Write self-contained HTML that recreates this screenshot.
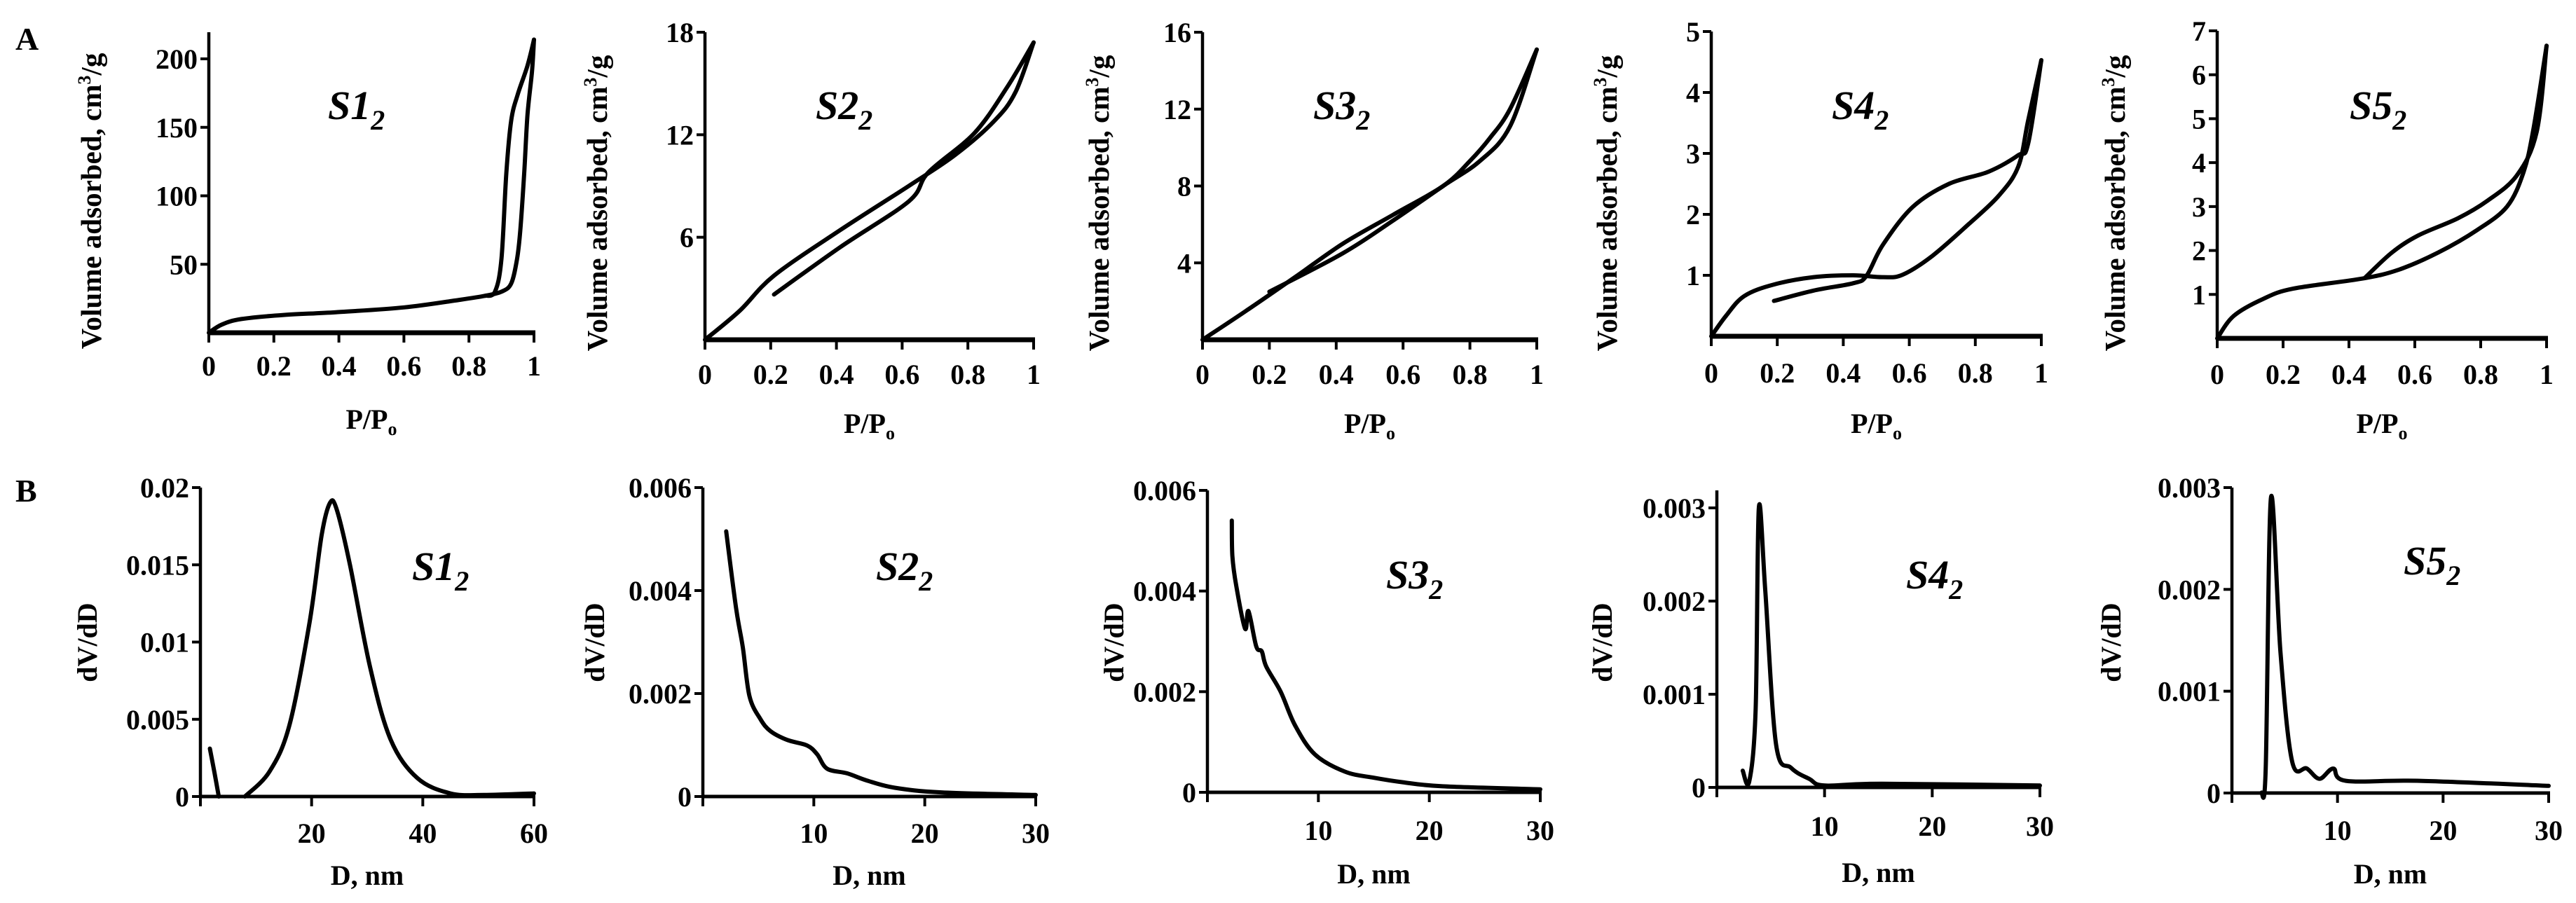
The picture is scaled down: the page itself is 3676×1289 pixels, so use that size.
<!DOCTYPE html>
<html><head><meta charset="utf-8"><style>
html,body{margin:0;padding:0;background:#fff}
svg{display:block}
text{font-family:"Liberation Serif",serif;font-weight:bold;fill:#000}
</style></head><body>
<svg id="fig" width="3676" height="1289" viewBox="0 0 3676 1289" xmlns="http://www.w3.org/2000/svg">
<text x="22" y="71" font-size="46">A</text>
<text x="22" y="716" font-size="46">B</text>
</svg>
<script>
// ---- Row A isotherm data (P/Po, volume) ----
const s1AdsP=[0,0.04,0.1,0.23,0.39,0.6,0.77,0.85,0.9,0.93,0.948,0.958,0.97,0.98,0.994,1];
const s1AdsV=[0,6,10,13,15,18.5,24,27,30,36,54,75,117,159,191,214];
const s1DesP=[0.85,0.88,0.9,0.915,0.93,0.95,0.98,1];
const s1DesV=[27,30,54,117,155,174,195,214];
const s2AdsP=[0,0.106,0.21,0.41,0.62,0.76,0.88,0.945,1];
const s2AdsV=[0,1.7,3.75,6.4,9,10.8,12.8,14.5,17.4];
const s2DesP=[0.21,0.41,0.62,0.68,0.82,0.92,1];
const s2DesV=[2.65,5.4,8.1,9.8,12.1,14.8,17.4];
const s3AdsP=[0,0.13,0.28,0.42,0.57,0.72,0.8,0.86,0.92,1];
const s3AdsV=[0,1.5,3.3,5,6.5,8,9.3,10.5,12,15.1];
const s3DesP=[0.2,0.42,0.57,0.72,0.83,0.92,1];
const s3DesV=[2.5,4.5,6.2,8,9.3,11.1,15.1];
const s4AdsP=[0,0.044,0.1,0.19,0.31,0.43,0.52,0.58,0.67,0.78,0.87,0.93,0.96,1];
const s4AdsV=[0,0.33,0.66,0.85,0.97,1.0,0.97,1.01,1.32,1.84,2.3,2.78,3.54,4.53];
const s4DesP=[0.19,0.31,0.43,0.47,0.52,0.61,0.72,0.84,0.93,0.96,1];
const s4DesV=[0.58,0.75,0.87,0.99,1.5,2.12,2.5,2.7,2.97,3.16,4.53];
const s5AdsP=[0,0.05,0.14,0.23,0.44,0.55,0.67,0.79,0.88,0.93,0.96,1];
const s5AdsV=[0,0.51,0.9,1.13,1.36,1.56,1.95,2.47,3.0,3.78,4.76,6.66];
const s5DesP=[0.45,0.53,0.61,0.73,0.82,0.91,0.97,1];
const s5DesV=[1.39,1.95,2.34,2.73,3.13,3.71,4.7,6.66];
// ---- Row B pore size distribution data (D nm, dV/dD) ----
const b1SmallD=[1.7,2.4,3.3];
const b1SmallV=[0.0031,0.0018,0];
const b1D=[8,12.4,16,19.6,21.8,23.3,24.5,26.9,30.5,34.2,39,45,51,60];
const b1V=[0,0.0016,0.0046,0.0112,0.0169,0.019,0.0186,0.015,0.0084,0.0037,0.0012,0.0002,0.0001,0.0002];
const b2D=[2.1,3.0,3.6,4.2,5.2,6.1,7.6,9.4,10.3,11.2,13,14.8,17.3,21.5,30];
const b2V=[0.00515,0.00365,0.0029,0.00195,0.0015,0.00127,0.0011,0.00099,0.00082,0.00054,0.00045,0.00031,0.00017,0.00008,0.00003];
const b3D=[2.2,2.25,2.6,3.4,3.7,4.4,4.9,5.3,6.6,7.9,9.7,12.4,15,17.6,21.2,30];
const b3V=[0.0054,0.0047,0.0041,0.00325,0.0036,0.0029,0.0028,0.0025,0.002,0.00133,0.00075,0.00041,0.00029,0.0002,0.00012,0.00006];
const b4D=[2.4,3.0,3.6,3.9,4.5,5.5,6.9,8.6,10,15.3,30];
const b4V=[0.00018,0.00006,0.00083,0.003,0.0021,0.00046,0.00021,0.00009,0.00002,0.00004,0.00002];
const b5D=[2.8,3.2,3.7,4.6,5.7,7.1,8.3,9.6,10.8,17.8,30];
const b5V=[0,0.00024,0.0029,0.00138,0.00031,0.00024,0.00014,0.00024,0.00012,0.00012,0.00007];
// ---- tick labels ----
const aXTicks=[0,0.2,0.4,0.6,0.8,1];
const a1YTicks=[50,100,150,200];
const a2YTicks=[6,12,18];
const a3YTicks=[4,8,12,16];
const a4YTicks=[1,2,3,4,5];
const a5YTicks=[1,2,3,4,5,6,7];
const b1XTicks=[20,40,60];
const b30XTicks=[10,20,30];
const b1YTicks=["0","0.005","0.01","0.015","0.02"];
const b2YTicks=["0","0.002","0.004","0.006"];
const b4YTicks=["0","0.001","0.002","0.003"];

const NS="http://www.w3.org/2000/svg";
const svg=document.getElementById('fig');
function mk(tag,attrs,parent){const e=document.createElementNS(NS,tag);for(const k in attrs)e.setAttribute(k,attrs[k]);(parent||svg).appendChild(e);return e;}
function pathD(pts){
  if(pts.length<2)return '';
  let d='M'+pts[0][0].toFixed(1)+','+pts[0][1].toFixed(1);
  for(let i=0;i<pts.length-1;i++){
    const p0=pts[Math.max(0,i-1)],p1=pts[i],p2=pts[i+1],p3=pts[Math.min(pts.length-1,i+2)];
    const c1=[p1[0]+(p2[0]-p0[0])/6,p1[1]+(p2[1]-p0[1])/6];
    const c2=[p2[0]-(p3[0]-p1[0])/6,p2[1]-(p3[1]-p1[1])/6];
    d+=' C'+c1[0].toFixed(1)+','+c1[1].toFixed(1)+' '+c2[0].toFixed(1)+','+c2[1].toFixed(1)+' '+p2[0].toFixed(1)+','+p2[1].toFixed(1);
  }
  return d;
}
function panel(c){
  const g=mk('g',{});
  
  
  const sx=v=>c.x0+(v-c.xmin)/(c.xmax-c.xmin)*(c.x1-c.x0);
  const sy=v=>c.y0-(v-c.ymin)/(c.ymax-c.ymin)*(c.y0-c.y1);
  const ya=mk('line',{x1:c.x0,y1:c.y0,x2:c.x0,y2:c.ytop,stroke:'#000','stroke-width':4.5},g);
  
  
  const xa=mk('line',{x1:c.x0-2,y1:c.y0,x2:c.x1+2,y2:c.y0,stroke:'#000','stroke-width':c.xw},g);
  
  
  c.xticks.forEach((t,i)=>{
    const x=sx(t);
    mk('line',{x1:x,y1:c.y0,x2:x,y2:c.y0+14,stroke:'#000','stroke-width':4},g);
    const tx=mk('text',{x:x,y:c.xly,'font-size':40,'text-anchor':'middle'},g);
    tx.textContent=c.xlabels[i];
    
    
  });
  if(c.x0tick){mk('line',{x1:c.x0,y1:c.y0,x2:c.x0,y2:c.y0+14,stroke:'#000','stroke-width':4},g);}
  c.yticks.forEach((t,i)=>{
    const y=sy(t);
    mk('line',{x1:c.x0-12,y1:y,x2:c.x0,y2:y,stroke:'#000','stroke-width':4},g);
    const ty=mk('text',{x:c.x0-16,y:y+14,'font-size':40,'text-anchor':'end'},g);
    ty.textContent=c.ylabels[i];
    
    
  });
  c.series.forEach((s,k)=>{
    const pts=s[0].map((v,i)=>[sx(v),sy(s[1][i])]);
    const p=mk('path',{d:pathD(pts),fill:'none',stroke:'#000','stroke-width':6,'stroke-linejoin':'round','stroke-linecap':'round'},g);
    
    
  });
  const xt=mk('text',{x:(c.x0+c.x1)/2,y:c.xty,'font-size':40,'text-anchor':'middle'},g);
  
  
  if(c.type==='A'){xt.innerHTML='P/P<tspan font-size="26" dy="9">o</tspan>';}
  else xt.textContent='D, nm';
  const yt=mk('text',{x:0,y:0,'font-size':c.type==='A'?41:40,'text-anchor':'middle',transform:'translate('+(c.ytx)+','+c.yty+') rotate(-90)'},g);
  
  
  if(c.type==='A'){yt.innerHTML='Volume adsorbed, cm<tspan font-size="26" dy="-15">3</tspan><tspan dy="15">/g</tspan>';}
  else yt.textContent='dV/dD';
  const st=mk('text',{x:c.stx,y:c.sty,'font-size':58,'font-style':'italic','text-anchor':'start'},g);
  st.innerHTML=c.label+'<tspan font-size="40" dy="15">2</tspan>';
  
  
}
const aLab=aXTicks.map(String);
const A=(o)=>Object.assign({type:'A',xmin:0,xmax:1,ymin:0,xw:7,xticks:aXTicks,xlabels:aLab},o);
panel(A({name:'panel-a-s1',x0:298,x1:762,y0:475,y1:84,ymax:200,ytop:46,yticks:a1YTicks,ylabels:a1YTicks.map(String),xly:536,xty:612,ytx:144,yty:287,stx:468,sty:170,label:'S1',series:[[s1AdsP,s1AdsV],[s1DesP,s1DesV]]}));
panel(A({name:'panel-a-s2',x0:1006,x1:1475,y0:485,y1:46,ymax:18,ytop:46,yticks:a2YTicks,ylabels:a2YTicks.map(String),xly:548,xty:618,ytx:866,yty:290,stx:1164,sty:170,label:'S2',series:[[s2AdsP,s2AdsV],[s2DesP,s2DesV]]}));
panel(A({name:'panel-a-s3',x0:1716,x1:2193,y0:485,y1:46,ymax:16,ytop:46,yticks:a3YTicks,ylabels:a3YTicks.map(String),xly:548,xty:618,ytx:1582,yty:290,stx:1874,sty:170,label:'S3',series:[[s3AdsP,s3AdsV],[s3DesP,s3DesV]]}));
panel(A({name:'panel-a-s4',x0:2442,x1:2913,y0:480,y1:45,ymax:5,ytop:45,yticks:a4YTicks,ylabels:a4YTicks.map(String),xly:546,xty:618,ytx:2307,yty:290,stx:2614,sty:170,label:'S4',series:[[s4AdsP,s4AdsV],[s4DesP,s4DesV]]}));
panel(A({name:'panel-a-s5',x0:3164,x1:3634,y0:483,y1:44,ymax:7,ytop:44,yticks:a5YTicks,ylabels:a5YTicks.map(String),xly:548,xty:618,ytx:3032,yty:290,stx:3353,sty:170,label:'S5',series:[[s5AdsP,s5AdsV],[s5DesP,s5DesV]]}));
const B=(o)=>Object.assign({type:'B',xmin:0,ymin:0,xw:5,x0tick:true},o);
panel(B({name:'panel-b-s1',x0:286,x1:762,xmax:60,y0:1137,y1:696,ymax:0.02,ytop:696,xticks:b1XTicks,xlabels:b1XTicks.map(String),yticks:[0,0.005,0.01,0.015,0.02],ylabels:b1YTicks,xly:1203,xty:1263,ytx:138,yty:917,stx:588,sty:828,label:'S1',series:[[b1SmallD,b1SmallV],[b1D,b1V]]}));
panel(B({name:'panel-b-s2',x0:1003,x1:1478,xmax:30,y0:1137,y1:696,ymax:0.006,ytop:696,xticks:b30XTicks,xlabels:b30XTicks.map(String),yticks:[0,0.002,0.004,0.006],ylabels:b2YTicks,xly:1203,xty:1263,ytx:862,yty:917,stx:1250,sty:828,label:'S2',series:[[b2D,b2V]]}));
panel(B({name:'panel-b-s3',x0:1723,x1:2198,xmax:30,y0:1131,y1:700,ymax:0.006,ytop:700,xticks:b30XTicks,xlabels:b30XTicks.map(String),yticks:[0,0.002,0.004,0.006],ylabels:b2YTicks,xly:1199,xty:1261,ytx:1603,yty:917,stx:1978,sty:840,label:'S3',series:[[b3D,b3V]]}));
panel(B({name:'panel-b-s4',x0:2450,x1:2911,xmax:30,y0:1124,y1:725,ymax:0.003,ytop:700,xticks:b30XTicks,xlabels:b30XTicks.map(String),yticks:[0,0.001,0.002,0.003],ylabels:b4YTicks,xly:1193,xty:1259,ytx:2300,yty:917,stx:2720,sty:840,label:'S4',series:[[b4D,b4V]]}));
panel(B({name:'panel-b-s5',x0:3185,x1:3637,xmax:30,y0:1132,y1:696,ymax:0.003,ytop:696,xticks:b30XTicks,xlabels:b30XTicks.map(String),yticks:[0,0.001,0.002,0.003],ylabels:b4YTicks,xly:1199,xty:1261,ytx:3026,yty:917,stx:3430,sty:820,label:'S5',series:[[b5D,b5V]]}));
</script>
</body></html>
